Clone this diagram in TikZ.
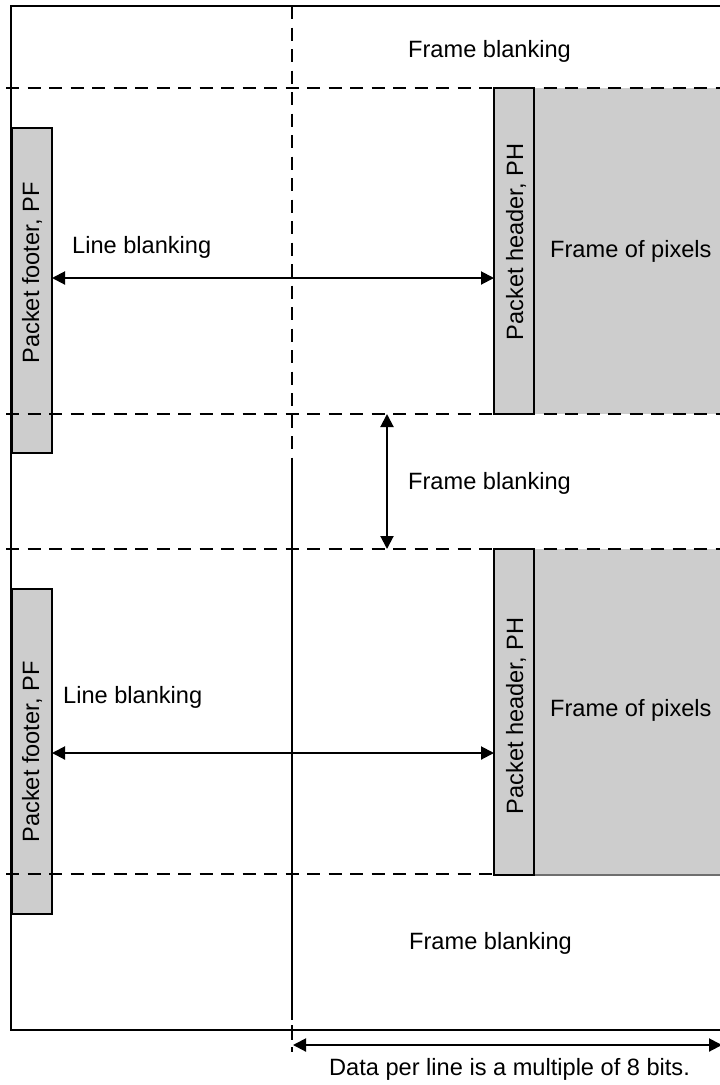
\documentclass[tikz,border=0pt]{standalone}
\usepackage{fontspec}
\setmainfont{Liberation Sans}
\usetikzlibrary{arrows.meta}
\definecolor{boxgray}{RGB}{205,205,205}
\definecolor{edgegray}{RGB}{110,110,110}
\begin{document}
\begin{tikzpicture}[x=1pt,y=-1pt,
  txt/.style={font=\fontsize{23.6}{28}\selectfont, inner sep=0pt, anchor=base west},
  rtxt/.style={font=\fontsize{23.6}{28}\selectfont, inner sep=0pt, anchor=base, rotate=90},
  frameline/.style={line width=2.6pt},
  dashline/.style={line width=2.4pt, dash pattern=on 13pt off 8.5pt},
  vline/.style={line width=2pt},
  greybox/.style={draw, line width=2.4pt, fill=boxgray, inner sep=0pt, outer sep=0pt, anchor=north west},
  pixbox/.style={fill=boxgray, inner sep=0pt, outer sep=0pt, anchor=north west},
  dimarrow/.style={line width=2pt, {Triangle[length=13pt,width=13pt]}-{Triangle[length=13pt,width=13pt]}},
]
\useasboundingbox (0,0) rectangle (720,1085);

% frames of pixels
\node[pixbox, minimum width=190pt, minimum height=326pt] (pix1) at (534,88) {};
\node[pixbox, minimum width=190pt, minimum height=326pt] (pix2) at (534,549) {};
\draw[edgegray, line width=2.2pt] (pix2.south west) -- (pix2.south east);

% packet footers
\node[greybox, minimum width=40pt, minimum height=325pt] (PF1) at (12,128) {};
\node[greybox, minimum width=40pt, minimum height=325pt] (PF2) at (12,589) {};

% outer frame
\draw[frameline] (722,6) -- (11,6) -- (11,1030) -- (722,1030);

% dashed horizontal lines
\draw[dashline] (6,88) -- (720,88);
\draw[dashline] (6,414) -- (720,414);
\draw[dashline] (6,549) -- (720,549);
\draw[dashline] (6,874) -- (494,874);

% vertical division line
\draw[dashline] (292,6) -- (292,458);
\draw[vline] (292,458) -- (292,1020);
\draw[vline] (292,1025) -- (292,1040);
\draw[vline] (292,1047) -- (292,1052);

% packet headers
\node[greybox, minimum width=40pt, minimum height=326pt] (PH1) at (494,88) {};
\node[greybox, minimum width=40pt, minimum height=326pt] (PH2) at (494,549) {};

% rotated labels
\node[rtxt] (tPF1) at (39,273) {Packet footer, PF};
\node[rtxt] (tPF2) at (39,752) {Packet footer, PF};
\node[rtxt] (tPH1) at (523,242) {Packet header, PH};
\node[rtxt] (tPH2) at (523,716) {Packet header, PH};

% texts
\node[txt] (fb1) at (408,57) {Frame blanking};
\node[txt] (fb2) at (408,489) {Frame blanking};
\node[txt] (fb3) at (409,949) {Frame blanking};
\node[txt] (lb1) at (72,253) {Line blanking};
\node[txt] (lb2) at (63,703) {Line blanking};
\node[txt] (fp1) at (550,257) {Frame of pixels};
\node[txt] (fp2) at (550,716) {Frame of pixels};
\node[txt] (dpl) at (329,1075) {Data per line is a multiple of 8 bits.};

% arrows
\coordinate (la1) at (0,278);
\coordinate (la2) at (0,753);
\coordinate (fbx) at (387,0);
\coordinate (dl) at (293,1045);
\coordinate (dr) at (722,1045);
\draw[dimarrow] (PF1.east |- la1) -- (PH1.west |- la1);
\draw[dimarrow] (PF2.east |- la2) -- (PH2.west |- la2);
\draw[dimarrow] (fbx |- PH1.south) -- (fbx |- PH2.north);
\draw[dimarrow] (dl) -- (dr);
\end{tikzpicture}
\end{document}
